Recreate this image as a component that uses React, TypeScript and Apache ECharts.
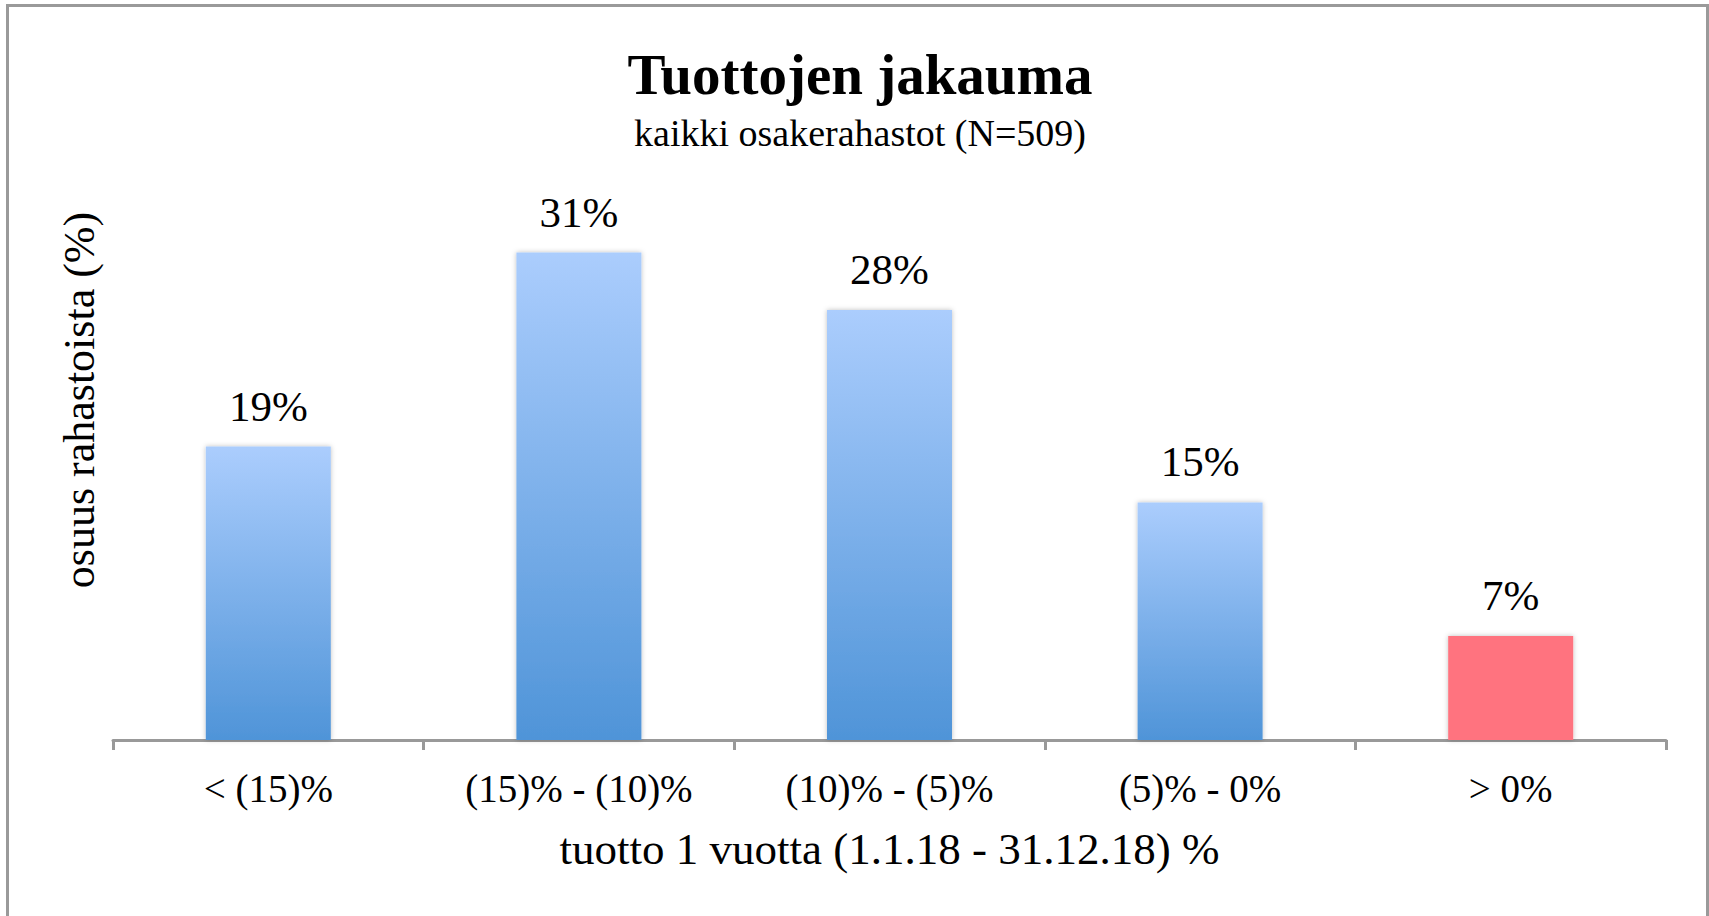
import React, { useEffect, useRef } from "react";
import * as echarts from "echarts";

const categories = ["< (15)%", "(15)% - (10)%", "(10)% - (5)%", "(5)% - 0%", "> 0%"];
const shares = [18.9, 31.4, 27.7, 15.3, 6.7];
const highlightIndex = 4;

const titleText = "Tuottojen jakauma";
const subtitleText = "kaikki osakerahastot (N=509)";
const xAxisName = "tuotto 1 vuotta (1.1.18 - 31.12.18) %";
const yAxisName = "osuus rahastoista (%)";

const FONT = "'Liberation Serif', 'Times New Roman', serif";

export default function App() {
  const ref = useRef<HTMLDivElement>(null);

  useEffect(() => {
    if (!ref.current) return;
    const chart = echarts.init(ref.current, null, { renderer: "svg" });
    const blueGradient = new echarts.graphic.LinearGradient(0, 0, 0, 1, [
      { offset: 0, color: "#abcdfd" },
      { offset: 1, color: "#4f94d8" },
    ]);
    chart.setOption({
      animation: false,
      backgroundColor: "#ffffff",
      title: [
        {
          text: titleText,
          left: 860,
          top: 46,
          padding: 0,
          textAlign: "center",
          textStyle: { fontFamily: FONT, fontSize: 57, fontWeight: "bold", color: "#000" },
        },
        {
          text: subtitleText,
          left: 860,
          top: 114,
          padding: 0,
          textAlign: "center",
          textStyle: { fontFamily: FONT, fontSize: 38, fontWeight: "normal", color: "#000" },
        },
      ],
      grid: { left: 113, right: 43, top: 60, bottom: 176, containLabel: false },
      xAxis: {
        type: "category",
        data: categories,
        name: xAxisName,
        nameLocation: "middle",
        nameGap: 86,
        nameTextStyle: { fontFamily: FONT, fontSize: 45, color: "#000" },
        axisLine: { show: true, lineStyle: { color: "#999999", width: 3 } },
        axisTick: { show: true, length: 10, lineStyle: { color: "#999999", width: 3 } },
        axisLabel: { fontFamily: FONT, fontSize: 39, color: "#000", margin: 29, interval: 0 },
        splitLine: { show: false },
      },
      yAxis: {
        type: "value",
        min: 0,
        max: 43.8,
        name: yAxisName,
        nameLocation: "middle",
        nameRotate: 90,
        nameGap: 12,
        nameTextStyle: { fontFamily: FONT, fontSize: 44, color: "#000" },
        axisLine: { show: false },
        axisTick: { show: false },
        axisLabel: { show: false },
        splitLine: { show: false },
      },
      series: [
        {
          type: "bar",
          barWidth: 125,
          data: shares.map((v, i) => ({
            value: v,
            itemStyle: i === highlightIndex ? { color: "#ff737f" } : { color: blueGradient },
          })),
          itemStyle: {
            shadowBlur: 5,
            shadowColor: "rgba(0,0,0,0.25)",
            shadowOffsetX: 0,
            shadowOffsetY: 0,
          },
          label: {
            show: true,
            position: "top",
            distance: 19,
            fontFamily: FONT,
            fontSize: 43,
            color: "#000",
            formatter: (p: any) => `${Math.round(p.value)}%`,
          },
        },
      ],
      graphic: [
        {
          type: "rect",
          silent: true,
          z: 100,
          shape: { x: 7.5, y: 5.5, width: 1700, height: 1000 },
          style: { fill: "none", stroke: "#9a9a9a", lineWidth: 3 },
        },
      ],
    });
    return () => chart.dispose();
  }, []);

  return (
    <div
      ref={ref}
      style={{ position: "absolute", left: 0, top: 0, width: 1709, height: 916 }}
    />
  );
}
